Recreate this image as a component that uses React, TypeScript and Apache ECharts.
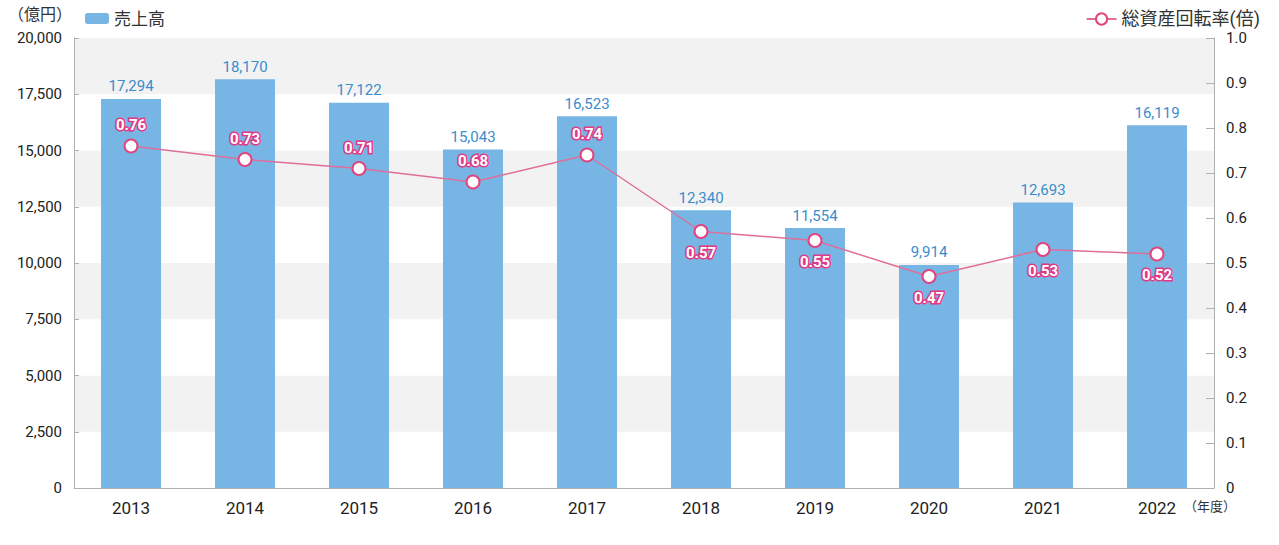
import React, { useEffect, useRef } from "react";
import * as echarts from "echarts";

const years = ["2013", "2014", "2015", "2016", "2017", "2018", "2019", "2020", "2021", "2022"];
const sales = [17294, 18170, 17122, 15043, 16523, 12340, 11554, 9914, 12693, 16119];
const turnover = [0.76, 0.73, 0.71, 0.68, 0.74, 0.57, 0.55, 0.47, 0.53, 0.52];
const labelAbove = [true, true, true, true, true, false, false, false, false, false];

const FONT = "'Roboto', 'Noto Sans CJK JP', sans-serif";

export default function App() {
  const ref = useRef<HTMLDivElement>(null);
  useEffect(() => {
    document.body.style.margin = "0";
    const chart = echarts.init(ref.current!, null, { renderer: "svg" });
    chart.setOption({
      animation: false,
      textStyle: { fontFamily: FONT },
      grid: { left: 74, right: 65, top: 38, bottom: 57, containLabel: false },
      legend: [
        {
          data: [{ name: "売上高" }],
          left: 80,
          top: 5,
          itemWidth: 24,
          itemHeight: 11,
          itemGap: 8,
          textStyle: { fontSize: 17, color: "#333", fontFamily: FONT },
        },
        {
          data: [{ name: "総資産回転率(倍)" }],
          right: 14,
          top: 5,
          itemWidth: 30,
          itemHeight: 14,
          textStyle: { fontSize: 18, color: "#333", fontFamily: FONT },
        },
      ],
      graphic: [
        {
          type: "text",
          left: 8,
          top: 6,
          style: { text: "（億円）", fontSize: 16, fill: "#333", fontFamily: FONT },
        },
        {
          type: "text",
          left: 1184,
          top: 500,
          style: { text: "（年度）", fontSize: 13, fill: "#333", fontFamily: FONT },
        },
      ],
      xAxis: {
        type: "category",
        data: years,
        boundaryGap: true,
        axisLine: { lineStyle: { color: "#b0b0b0" } },
        axisTick: { inside: true, length: 8, lineStyle: { color: "#b0b0b0" } },
        axisLabel: { fontSize: 17, color: "#222", margin: 11, fontFamily: FONT },
      },
      yAxis: [
        {
          type: "value",
          min: 0,
          max: 20000,
          interval: 2500,
          axisLine: { show: true, lineStyle: { color: "#b0b0b0" } },
          axisTick: { show: true, inside: true, length: 5, lineStyle: { color: "#b0b0b0" } },
          axisLabel: {
            fontSize: 15,
            color: "#222",
            margin: 12,
            formatter: (v: number) => v.toLocaleString("en-US"),
          },
          splitLine: { show: false },
          splitArea: { show: true, areaStyle: { color: ["#ffffff", "#f2f2f2"] } },
        },
        {
          type: "value",
          min: 0,
          max: 1,
          interval: 0.1,
          axisLine: { show: true, lineStyle: { color: "#b0b0b0" } },
          axisTick: { show: true, inside: true, length: 8, lineStyle: { color: "#b0b0b0" } },
          axisLabel: {
            fontSize: 15,
            color: "#222",
            margin: 12,
            formatter: (v: number) => (v === 0 ? "0" : v.toFixed(1)),
          },
          splitLine: { show: false },
        },
      ],
      series: [
        {
          name: "売上高",
          type: "bar",
          data: sales,
          barWidth: 60,
          itemStyle: { color: "#77b5e5" },
          label: {
            show: true,
            position: "top",
            distance: 5,
            fontSize: 15,
            color: "#3a8dcc",
            formatter: (p: any) => Number(p.value).toLocaleString("en-US"),
          },
          z: 2,
        },
        {
          name: "総資産回転率(倍)",
          type: "line",
          yAxisIndex: 1,
          data: turnover.map((v, i) => ({
            value: v,
            label: { position: labelAbove[i] ? "top" : "bottom" },
          })),
          symbol: "circle",
          symbolSize: 13,
          lineStyle: { color: "#df6f98", width: 1.5 },
          itemStyle: { color: "#ffffff", borderColor: "#e0457f", borderWidth: 2 },
          label: {
            show: true,
            distance: 6,
            fontSize: 15,
            fontWeight: "bold",
            color: "#ffffff",
            textBorderColor: "#e03a86",
            textBorderWidth: 3,
            formatter: (p: any) => Number(p.value).toFixed(2),
          },
          z: 5,
        },
      ],
    });
    return () => chart.dispose();
  }, []);
  return <div ref={ref} style={{ width: 1279, height: 545 }} />;
}
